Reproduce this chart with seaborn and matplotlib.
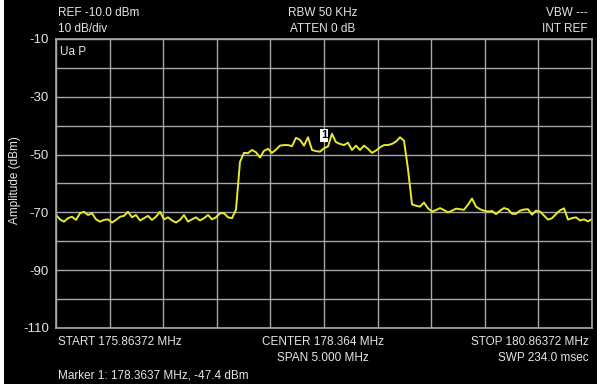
import numpy as np
import pandas as pd
import matplotlib
matplotlib.use("Agg")
import matplotlib.pyplot as plt
from matplotlib.patches import Rectangle
import seaborn as sns

# ---- data ----
start_mhz = 175.86372
stop_mhz = 180.86372
marker_freq = 178.3637
marker_amp = -47.4
y_ticks = [-10, -30, -50, -70, -90, -110]
y_tick_labels = ["-10", "-30", "-50", "-70", "-90", "-110"]

noise_left = [-70.9, -72.4, -73.2, -72.0, -71.5, -72.6, -70.3, -69.8, -70.9, -70.3,
              -72.4, -73.2, -72.6, -72.4, -73.5, -72.6, -71.5, -71.2, -69.8, -71.7,
              -70.9, -72.8, -72.0, -71.2, -72.6, -71.5, -69.8, -72.4, -71.7, -72.8,
              -73.5, -72.6, -70.9, -73.2, -72.4, -71.7, -72.8, -72.0, -70.9, -72.4,
              -71.7, -70.3, -70.3, -71.7, -72.0]
rise = [-69.0, -52.5]
plateau = [-49.4, -49.5, -48.4, -49.2, -51.0, -48.7, -48.0, -49.4, -48.3, -46.9,
           -46.7, -46.7, -47.1, -44.2, -44.9, -46.9, -44.0, -48.4, -48.8, -49.0,
           -47.8, -47.2, -42.8, -45.7, -46.3, -46.7, -45.9, -48.4, -46.9, -48.4,
           -46.9, -48.0, -49.4, -48.6, -47.5, -46.7, -46.7, -46.3, -45.5, -44.0,
           -45.2]
fall = [-55.0]
noise_right = [-67.2, -67.7, -68.0, -66.6, -68.6, -69.7, -69.2, -68.5, -69.2, -70.0,
               -69.4, -68.7, -68.9, -69.1, -67.3, -65.2, -68.0, -68.9, -69.4, -69.7,
               -69.5, -70.6, -69.4, -68.5, -68.9, -70.5, -70.5, -69.4, -69.0, -68.9,
               -70.8, -69.4, -69.7, -71.1, -72.5, -72.0, -70.6, -69.3, -68.6, -72.5,
               -72.0, -71.7, -72.8, -72.4, -73.1, -72.3]

amplitude = noise_left + rise + plateau + fall + noise_right
freq = np.linspace(start_mhz, stop_mhz, len(amplitude))
df = pd.DataFrame({"freq": freq, "amp": amplitude})

# ---- style ----
sns.set_theme(style="dark")
plt.rcParams["font.family"] = ["Liberation Sans", "DejaVu Sans"]

W, H = 600, 389
fig = plt.figure(figsize=(6.0, 3.89), dpi=100, facecolor="white")
fig.patches.append(Rectangle((4 / W, 1 - 384 / H), 593 / W, 384 / H,
                             transform=fig.transFigure, facecolor="black",
                             edgecolor="none", zorder=-5))

ax = fig.add_axes([56 / W, 1 - 328 / H, 536 / W, 289 / H])
ax.set_facecolor("black")

sns.lineplot(data=df, x="freq", y="amp", ax=ax, color="#e8e82e", linewidth=1.4)

ax.set_xlim(start_mhz, stop_mhz)
ax.set_ylim(-110, -10)
ax.set_xticks(np.linspace(start_mhz, stop_mhz, 11))
ax.set_xticklabels([])
ax.set_yticks(y_ticks)
ax.set_yticklabels(y_tick_labels)
ax.set_yticks(np.arange(-100, -10, 20), minor=True)
ax.grid(True, which="both", color="#a8a8a8", linewidth=1.0)
ax.tick_params(axis="both", which="both", length=0, colors="#e6e6e6",
               labelsize=9.5, pad=5)
ax.set_xlabel("")
ax.set_ylabel("")
for s in ax.spines.values():
    s.set_color("#a8a8a8")
    s.set_linewidth(1.2)

# marker label
ax.annotate("1", xy=(marker_freq, marker_amp), xytext=(0, 8.5),
            textcoords="offset points", ha="center", va="center",
            fontsize=8, fontweight="bold", color="black",
            bbox=dict(boxstyle="square,pad=0.12", facecolor="white",
                      edgecolor="none"))

tc = "#e6e6e6"
fs = 8.5

def ftext(x, y, s, ha="left", **kw):
    fig.text(x / W, 1 - y / H, s, ha=ha, va="center", color=tc, fontsize=fs, **kw)

ftext(15, 180, "Amplitude (dBm)", ha="center", rotation=90)
ftext(58, 13, "REF -10.0 dBm")
ftext(58, 29, "10 dB/div")
ftext(323, 13, "RBW 50 KHz", ha="center")
ftext(323, 29, "ATTEN 0 dB", ha="center")
ftext(588, 13, "VBW ---", ha="right")
ftext(588, 29, "INT REF", ha="right")
ftext(60, 52, "Ua P")
ftext(58, 342, "START 175.86372 MHz")
ftext(323, 342, "CENTER 178.364 MHz", ha="center")
ftext(323, 358, "SPAN 5.000 MHz", ha="center")
ftext(589, 342, "STOP 180.86372 MHz", ha="right")
ftext(589, 358, "SWP 234.0 msec", ha="right")
ftext(58, 376, "Marker 1: 178.3637 MHz, -47.4 dBm")

fig.savefig("out.png", dpi=100, facecolor="white")
